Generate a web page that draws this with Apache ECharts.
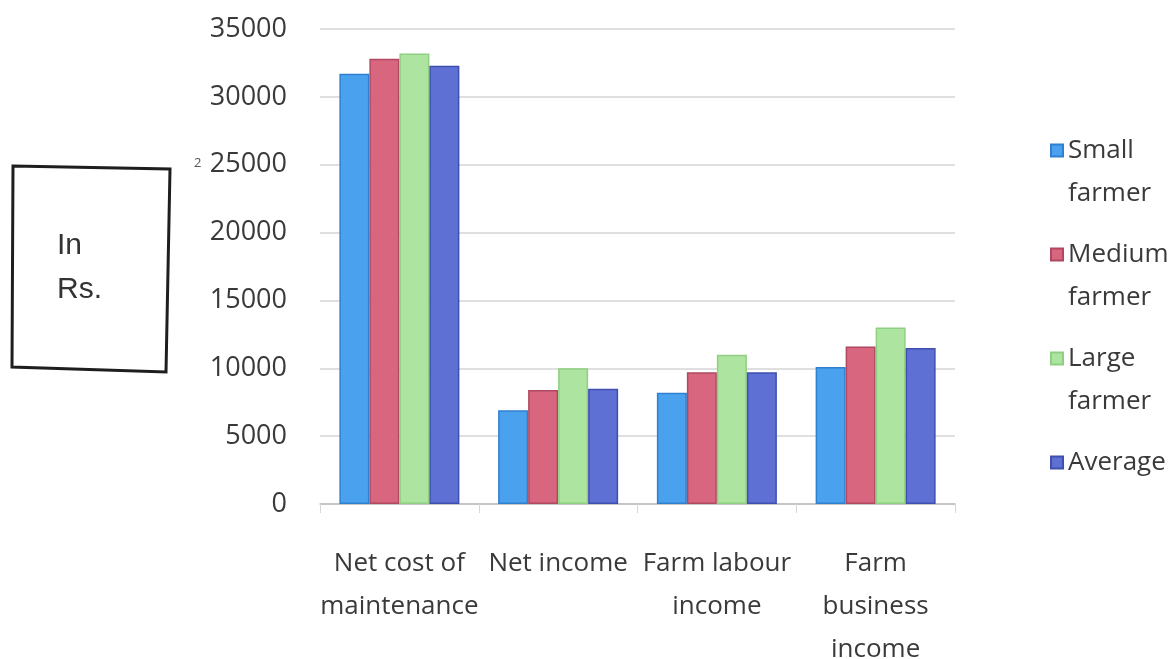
<!DOCTYPE html>
<html>
<head>
<meta charset="utf-8">
<title>Farm income by farmer category</title>
<script src="https://cdn.jsdelivr.net/npm/echarts@6/dist/echarts.min.js"></script>
<style>
  html, body { margin: 0; padding: 0; background: #ffffff; }
  #chart { width: 1175px; height: 659px; }
</style>
</head>
<body>
<div id="chart"></div>
<script>
// Categories (line breaks as they wrap under the axis)
const categories = [
  'Net cost of\nmaintenance',
  'Net income',
  'Farm labour\nincome',
  'Farm\nbusiness\nincome'
];

// Values in Rs. per farm group
const smallFarmer  = [31700, 6900, 8200, 10100];
const mediumFarmer = [32800, 8400, 9700, 11600];
const largeFarmer  = [33200, 10000, 11000, 13000];
const averageFarm  = [32300, 8500, 9700, 11500];

const seriesNames = ['Small farmer', 'Medium farmer', 'Large farmer', 'Average'];

// Value axis ticks
const yMin = 0;
const yMax = 35000;
const yStep = 5000;

const textColor = '#3a3a3a';
const font = '"Open Sans", "DejaVu Sans", sans-serif';

const fills   = ['#4aa2ee', '#d8667f', '#ade5a0', '#5f70d5'];
const borders = ['#2f80d0', '#b04862', '#8fcf82', '#3e4fae'];
const values  = [smallFarmer, mediumFarmer, largeFarmer, averageFarm];

const chart = echarts.init(document.getElementById('chart'), null, { renderer: 'canvas' });

chart.setOption({
  animation: false,
  backgroundColor: '#ffffff',
  grid: {
    left: 320, right: 220, top: 29, bottom: 155,
    containLabel: false,
    outerBoundsMode: 'none'
  },
  legend: {
    orient: 'vertical',
    left: 1050,
    top: 86,
    padding: 0,
    itemGap: -25,
    itemWidth: 12,
    itemHeight: 12,
    icon: 'rect',
    data: seriesNames,
    formatter: function (name) {
      // Blank first line keeps the swatch level with the first text line
      const lines = [' '].concat(name.split(' '));
      if (lines.length === 2) lines.push(' ');
      return lines.join('\n');
    },
    textStyle: {
      fontFamily: font,
      fontSize: 26,
      lineHeight: 43,
      color: textColor
    }
  },
  xAxis: {
    type: 'category',
    data: categories,
    axisLine: { show: true, lineStyle: { color: '#bdbdbd', width: 1.5 } },
    axisTick: { show: true, length: 9, lineStyle: { color: '#d6d6d6' } },
    axisLabel: {
      interval: 0,
      margin: 38,
      fontFamily: font,
      fontSize: 26,
      lineHeight: 43,
      color: textColor
    }
  },
  yAxis: {
    type: 'value',
    min: yMin,
    max: yMax,
    interval: yStep,
    axisLine: { show: false },
    axisTick: { show: false },
    splitLine: { show: true, lineStyle: { color: '#d4d4d4', width: 1.5 } },
    axisLabel: {
      margin: 33,
      fontFamily: font,
      fontSize: 27,
      color: textColor,
      formatter: function (v) { return String(v); }
    }
  },
  series: seriesNames.map(function (name, i) {
    return {
      name: name,
      type: 'bar',
      data: values[i],
      barWidth: 30,
      barGap: '0%',
      itemStyle: { color: fills[i], borderColor: borders[i], borderWidth: 1.5 }
    };
  }),
  graphic: [
    {
      type: 'polygon',
      shape: { points: [[13, 166], [170, 169], [166, 372], [12, 367]] },
      style: { fill: '#ffffff', stroke: '#1e1e1e', lineWidth: 3 }
    },
    {
      type: 'text',
      left: 57,
      top: 224,
      style: {
        text: 'In\nRs.',
        font: '30px "Liberation Sans", Arial, sans-serif',
        lineHeight: 44,
        fill: '#333333'
      }
    },
    {
      type: 'text',
      left: 194,
      top: 157,
      style: {
        text: '2',
        font: '13px "Open Sans", sans-serif',
        fill: '#555555'
      }
    }
  ]
});
</script>
</body>
</html>
